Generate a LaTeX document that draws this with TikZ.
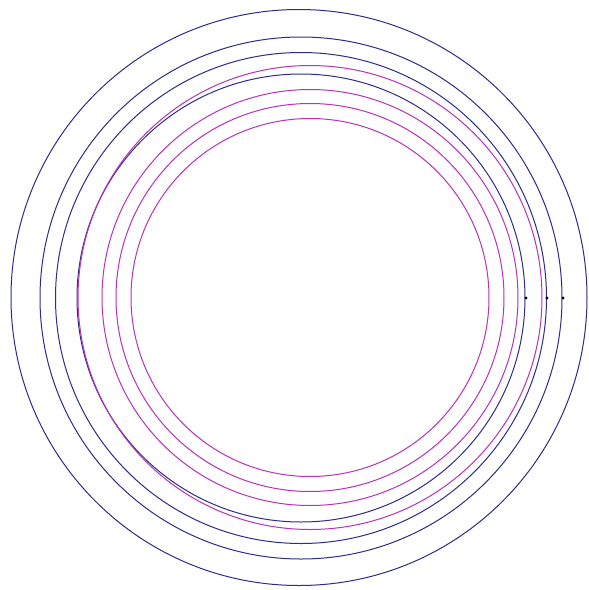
\documentclass[tikz,border=0pt]{standalone}
\begin{document}
\begin{tikzpicture}[x=1pt,y=-1pt,
  bluering/.style={draw={rgb,255:red,45;green,45;blue,140},line width=1pt},
  magring/.style={draw={rgb,255:red,185;green,50;blue,185},line width=1pt},
  mark dot/.style={fill=black,circle,inner sep=0pt,minimum size=3.2pt}]
\useasboundingbox[fill=white] (0,0) rectangle (589,590);
\coordinate (cb) at (301,298);
\coordinate (co) at (299,297.5);
\coordinate (cm) at (310,297.5);
\draw[bluering] (co) circle[radius=288];
\draw[bluering] (cb) circle[radius=261];
\draw[bluering] (cb) circle[radius=245.5];
\draw[bluering] (cb) circle[radius=224];
\draw[magring] (cm) circle[radius=232];
\draw[magring] (cm) circle[radius=208];
\draw[magring] (cm) circle[radius=194];
\draw[magring] (cm) circle[radius=179];
\node[mark dot] (d1) at (526,298) {};
\node[mark dot] (d2) at (547,298) {};
\node[mark dot] (d3) at (563,298) {};
\end{tikzpicture}
\end{document}
